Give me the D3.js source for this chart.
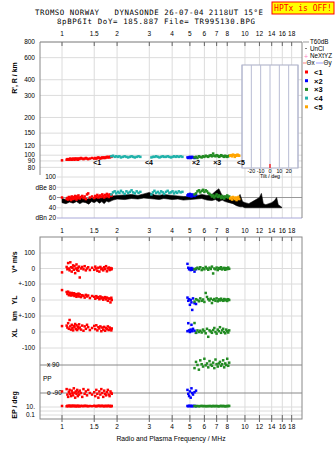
<!DOCTYPE html>
<html>
<head>
<meta charset="utf-8">
<script src="https://cdn.jsdelivr.net/npm/d3@7"></script>
<style>
  body { margin: 0; background: #fff; }
  svg text { font-family: "Liberation Sans", Arial, sans-serif; }
  .mono { font-family: "DejaVu Sans Mono", monospace; white-space: pre; }
</style>
</head>
<body>
<svg id="chart" width="335" height="451"></svg>
<script>
// frequency axis
const freqTicks = [1, 1.5, 2, 3, 4, 5, 6, 7, 8, 10, 12, 14, 16, 18];
const heightTicks = [80, 90, 100, 120, 150, 200, 300, 400, 600, 800];
const ampTicks = [100, 80, 60, 40, 20];
const ampLabels = ["100", "dBe 80", "60", "40", "dBn 20"];
const tiltTicks = [-30, -20, -10, 0, 10, 20, 30];

// mode 1 (red)
const redF = [
  1.00, 1.06, 1.07, 1.08, 1.09, 1.10, 1.11, 1.12, 1.13, 1.14,
  1.15, 1.16, 1.17, 1.18, 1.19, 1.20, 1.21, 1.22, 1.23, 1.24,
  1.25, 1.27, 1.29, 1.31, 1.33, 1.35, 1.37, 1.39, 1.42, 1.46,
  1.50, 1.52, 1.54, 1.56, 1.58, 1.60, 1.62, 1.64, 1.66, 1.68,
  1.70, 1.72, 1.74, 1.76, 1.78, 1.80, 1.82, 1.84, 1.86, 1.87];
const redH = [
  91, 92, 93, 92, 93, 92, 94, 93, 92, 93,
  94, 93, 92, 94, 93, 94, 93, 92, 94, 93,
  94, 95, 94, 93, 94, 95, 94, 93, 94, 95,
  94, 95, 94, 95, 96, 95, 94, 95, 96, 95,
  96, 95, 96, 97, 96, 97, 96, 97, 97, 98];
const redA = [
  60, 57, 59, 56, 61, 58, 60, 55, 62, 59,
  57, 61, 58, 63, 60, 56, 62, 59, 64, 60,
  58, 61, 63, 59, 62, 57, 66, 68, 60, 62,
  59, 63, 61, 65, 60, 62, 64, 61, 66, 63,
  60, 65, 62, 67, 64, 61, 66, 63, 65, 64];
const redV = [
  -25, 10, -5, 35, 0, -12, 40, 8, -20, 5,
  20, -8, 15, -30, 0, 26, -10, 5, -15, 12,
  -58, 0, 10, -5, 15, -12, 0, 8, -10, 5,
  -8, 12, 0, -15, 5, -20, 10, -5, 0, -12,
  8, -3, 15, -18, 0, 6, -10, 3, -6, 0];
const redYL = [
  62, 50, 38, 52, 30, 45, 40, 28, 44, 35,
  30, 42, 25, 38, 33, 20, 36, 28, 40, 22,
  35, 18, 30, 26, 15, 32, 22, 28, 12, 25,
  20, 8, 24, 14, 18, 5, 22, 10, 16, 2,
  12, 18, 4, 15, -5, 10, 6, -15, 14, 0];
const redXL = [
  37, 40, 28, 55, 20, 75, 35, 15, 45, 25,
  10, 38, 30, 50, 18, 42, 12, 33, 22, 48,
  28, 15, 40, 8, 35, 20, 45, 30, 12, 25,
  38, 18, 42, 10, 30, 22, 35, 5, 28, 15,
  32, 8, 25, 18, 35, 12, 28, 20, 10, 22];
const redPP = [
  -80, -65, -100, -115, -85, -70, -95, -110, -75, -90,
  -105, -60, -88, -120, -80, -95, -70, -110, -85, -100,
  -75, -90, -115, -65, -95, -80, -105, -70, -90, -100,
  -85, -110, -70, -95, -120, -80, -100, -65, -90, -115,
  -75, -95, -105, -85, -70, -100, -110, -80, -90, -95];
const redEP = [
  18, 15, 20, 16, 18, 22, 17, 15, 19, 21,
  16, 18, 20, 17, 15, 19, 18, 16, 20, 17,
  15, 19, 18, 16, 21, 17, 19, 15, 18, 16,
  20, 17, 15, 19, 18, 21, 16, 18, 20, 17,
  15, 19, 18, 16, 20, 17, 19, 15, 18, 17];

// mode 4 (cyan)
const cyanF = [1.86, 1.90, 1.94, 1.98, 2.02, 2.06, 2.10, 2.15, 2.20, 2.25, 2.30, 2.35, 2.40, 2.45, 2.50, 2.56, 2.62, 2.68, 3.08, 3.14, 3.20, 3.27, 3.34, 3.41, 3.48, 3.55, 3.62, 3.70, 3.78, 3.86, 3.94, 4.02, 4.10, 4.18, 4.26, 4.35, 4.45, 4.55];
const cyanH = [98, 99, 97, 98, 97, 98, 96, 97, 98, 97, 96, 97, 98, 97, 96, 97, 98, 97, 96, 97, 97, 98, 97, 96, 97, 98, 97, 97, 98, 97, 96, 97, 98, 97, 98, 97, 98, 97];
const cyanA = [66, 70, 72, 68, 71, 69, 73, 70, 67, 72, 69, 71, 74, 70, 68, 72, 69, 71, 66, 70, 73, 69, 71, 68, 72, 70, 67, 71, 73, 69, 70, 72, 68, 71, 69, 72, 70, 71];

// mode 2 (blue)
const blueF = [4.85, 4.90, 4.95, 5.00, 5.05, 5.10, 5.15, 5.20, 5.30, 5.40];
const blueH = [96, 95, 96, 97, 95, 96, 97, 96, 95, 96];
const blueA = [64, 66, 63, 67, 65, 62, 66, 64, 63, 65];
const blueV = [30, 5, -5, 0, -10, 3, -8, -2, -20, -5];
const blueYL = [15, -5, 5, -30, 0, -15, -62, 10, -20, -25];
const blueXL = [5, 55, 10, 0, 15, 45, 5, 20, 8, -5];
const bluePP = [-70, -95, -110, -80, -120, -60, -90, -100, -85, -75];
const blueEP = [18, 16, 20, 17, 19, 16, 18, 17, 19, 16];

// mode 3 (green)
const greenF = [5.30, 5.40, 5.50, 5.60, 5.70, 5.80, 5.90, 6.00, 6.10, 6.20, 6.30, 6.40, 6.50, 6.60, 6.70, 6.80, 6.90, 7.00, 7.10, 7.20, 7.30, 7.40, 7.50, 7.60, 7.70, 7.80, 7.90, 8.00, 8.10, 8.20];
const greenH = [96, 97, 95, 98, 97, 96, 98, 97, 99, 98, 97, 99, 100, 98, 103, 99, 98, 100, 99, 97, 98, 100, 99, 98, 97, 99, 98, 97, 98, 99];
const greenA = [66, 68, 72, 74, 70, 73, 75, 71, 74, 72, 69, 67, 65, 62, 64, 60, 63, 66, 61, 64, 62, 59, 63, 60, 58, 62, 61, 64, 60, 62];
const greenV = [-5, 0, 5, -3, 8, -10, 2, -5, 10, 0, -8, 5, -3, 12, -32, 0, -5, 6, -10, 3, -2, 8, -6, 0, 4, -8, 2, -4, 6, -2];
const greenYL = [-10, 5, 0, -8, 10, -5, 3, -12, 44, 19, 5, -3, 8, -19, 0, 6, -5, 10, -8, 4, -3, 8, 0, -5, 6, -2, 3, -6, 5, 0];
const greenXL = [56, -5, 10, 0, 8, -3, 15, 5, -8, 20, -30, 10, 3, -5, 12, 25, 0, -10, 15, 5, 30, -5, 10, 20, 0, -8, 15, 5, -3, 10];
const greenPP = [70, 110, 90, 60, 120, 95, 80, 130, 88, 100, 75, 115, 92, 85, 105, 70, 125, 95, 80, 100, 110, 85, 95, 120, 75, 100, 90, 130, 85, 105];
const greenEP = [17, 16, 18, 15, 17, 19, 16, 18, 15, 17, 16, 18, 17, 15, 19, 16, 17, 18, 16, 15, 17, 19, 16, 18, 17, 15, 16, 18, 17, 19];

// mode 5 (orange)
const orangeF = [8.30, 8.40, 8.50, 8.60, 8.70, 8.80, 8.90, 9.00, 9.10, 9.20, 9.30];
const orangeH = [99, 100, 98, 101, 100, 97, 100, 99, 101, 100, 99];
const orangeA = [58, 60, 56, 61, 59, 57, 60, 55, 58, 61, 57];

// noise amplitude band (black)
const noiseF = [1.00, 1.05, 1.10, 1.15, 1.20, 1.25, 1.30, 1.35, 1.40, 1.45, 1.50, 1.55, 1.60, 1.65, 1.70, 1.75, 1.80, 1.90, 2.00, 2.20, 2.40, 2.60, 2.80, 3.00, 3.20, 3.40, 3.60, 3.80, 4.00, 4.30, 4.60, 5.00, 5.40, 5.80, 6.20, 6.60, 6.90, 7.20, 7.50, 7.80, 8.20, 8.60, 9.00, 9.40, 9.70, 10.0, 10.5, 11.0, 11.5, 12.0, 12.3, 12.6, 13.0, 13.5, 14.0, 14.5, 14.9, 15.2, 15.9];
const noiseLo = [50, 48, 51, 49, 52, 48, 51, 50, 47, 52, 50, 53, 49, 52, 48, 53, 51, 55, 57, 56, 58, 57, 59, 58, 57, 56, 58, 57, 56, 57, 55, 56, 57, 58, 55, 54, 56, 52, 55, 52, 50, 48, 44, 42, 42, 40, 40, 40, 40, 40, 40, 40, 40, 40, 40, 40, 40, 40, 40];
const noiseHi = [58, 56, 59, 57, 58, 57, 60, 56, 58, 59, 57, 61, 58, 60, 59, 62, 60, 63, 64, 65, 66, 64, 67, 70, 65, 64, 66, 65, 64, 63, 62, 62, 63, 66, 64, 66, 72, 77, 64, 62, 60, 58, 56, 66, 52, 50, 48, 52, 56, 60, 68, 48, 46, 48, 50, 54, 60, 46, 41];

// echo trace labels
const traceLabels = ["<1", "<4", "×2", "×3", "<5"];
const traceLabelF = [1.48, 2.84, 5.13, 6.7, 9.04];

const legendNames = ["<1", "×2", "×3", "<4", "<5"];
const legendColors = ["#ff0000", "#0000ff", "#228b22", "#20b2aa", "#ffa500"];

const svg = d3.select("#chart");

// scales
const x = d3.scaleLog().domain([0.758, 20.5]).range([40, 302]);
const yH = d3.scaleLog().domain([67, 800]).range([177, 42]);
const yA = d3.scaleLinear().domain([20, 100]).range([218, 177]);
const yV = d3.scaleLinear().domain([-100, 100]).range([284, 253]);
const yYL = d3.scaleLinear().domain([-100, 100]).range([316, 284]);
const yXL = d3.scaleLinear().domain([-100, 100]).range([348, 316]);
const yPP = d3.scaleLinear().domain([-90, 90]).range([393, 365]);
const yEP = d3.scaleLog().domain([0.1, 10]).range([415, 407]);
const xTilt = d3.scaleLinear().domain([-30, 30]).range([242, 298]);

const grid = "#dcdcdc";

// title
svg.append("text").attr("class", "mono").attr("x", 35).attr("y", 15)
  .attr("font-size", 7.4).attr("textLength", 228).attr("lengthAdjust", "spacing")
  .text("TROMSO NORWAY   DYNASONDE 26-07-04 2118UT 15°E");
svg.append("text").attr("class", "mono").attr("x", 57).attr("y", 23.5)
  .attr("font-size", 7.4).attr("textLength", 198).attr("lengthAdjust", "spacing")
  .text("8pBP6It DoY= 185.887 File= TR995130.BPG");
svg.append("rect").attr("x", 272).attr("y", 2).attr("width", 62).attr("height", 12)
  .attr("fill", "#ffff00").attr("stroke", "#ff0000");
svg.append("text").attr("class", "mono").attr("x", 303).attr("y", 11)
  .attr("font-size", 8).attr("fill", "#ff0000").attr("text-anchor", "middle").text("HPTx is OFF!");

// ---------- upper panel: heights ----------
const upper = svg.append("g");
upper.selectAll(".vg").data(freqTicks).join("line")
  .attr("x1", d => x(d)).attr("x2", d => x(d)).attr("y1", 42).attr("y2", 218)
  .attr("stroke", grid);
upper.selectAll(".hg").data(heightTicks).join("line")
  .attr("x1", 40).attr("x2", 302).attr("y1", d => yH(d)).attr("y2", d => yH(d))
  .attr("stroke", grid);
upper.selectAll(".hl").data(heightTicks).join("text")
  .attr("x", 35).attr("y", d => yH(d) + 2.3).attr("text-anchor", "end")
  .attr("font-size", 6.5).text(d => d);

// amplitude grid
upper.selectAll(".ag").data(ampTicks).join("line")
  .attr("x1", 57).attr("x2", 302).attr("y1", d => yA(d)).attr("y2", d => yA(d))
  .attr("stroke", d => d === 60 ? "#999" : d === 20 ? "#a8a8d8" : grid);
upper.selectAll(".al").data(ampTicks).join("text")
  .attr("x", 56).attr("y", d => yA(d) + 2.3).attr("text-anchor", "end")
  .attr("font-size", 6.5).text((d, i) => ampLabels[i]);

// frame
upper.append("line").attr("x1", 40).attr("x2", 302).attr("y1", 42).attr("y2", 42).attr("stroke", "#888");
upper.append("line").attr("x1", 40).attr("x2", 40).attr("y1", 42).attr("y2", 175).attr("stroke", "#888");
upper.append("line").attr("x1", 302).attr("x2", 302).attr("y1", 42).attr("y2", 218).attr("stroke", "#888");
upper.selectAll(".tk").data(freqTicks).join("line")
  .attr("x1", d => x(d)).attr("x2", d => x(d)).attr("y1", 42).attr("y2", 46).attr("stroke", "#666");
upper.selectAll(".tl").data(freqTicks).join("text")
  .attr("x", d => x(d)).attr("y", 36).attr("text-anchor", "middle")
  .attr("font-size", 6.5).text(d => d);
svg.append("text").attr("transform", "translate(17,78) rotate(-90)")
  .attr("text-anchor", "middle").attr("font-size", 7).attr("font-weight", "bold").text("R', R / km");

// tilt inset
upper.append("rect").attr("x", 242).attr("y", 65).attr("width", 56).attr("height", 103)
  .attr("fill", "#fff").attr("stroke", "#a8acc4");
upper.selectAll(".tg").data(tiltTicks).join("line")
  .attr("x1", d => xTilt(d)).attr("x2", d => xTilt(d)).attr("y1", 65).attr("y2", 168)
  .attr("stroke", "#b8bcd4");
upper.selectAll(".ttl").data(tiltTicks.slice(1, 6)).join("text")
  .attr("x", d => xTilt(d)).attr("y", 172.5).attr("text-anchor", "middle")
  .attr("font-size", 5.3).text(d => d);
upper.append("text").attr("x", 270).attr("y", 178).attr("text-anchor", "middle")
  .attr("font-size", 5.3).text("Tilt / deg");
upper.append("line").attr("x1", xTilt(0)).attr("x2", xTilt(0)).attr("y1", 164).attr("y2", 168)
  .attr("stroke", "#ff0000").attr("stroke-width", 1.2);

// noise band
upper.append("path").datum(d3.range(noiseF.length))
  .attr("d", d3.area().x(i => x(noiseF[i])).y0(i => yA(noiseLo[i])).y1(i => yA(noiseHi[i])))
  .attr("fill", "#000").attr("stroke", "#000").attr("stroke-width", 0.6);

function dots(g, fs, vs, ys, color) {
  g.append("g").selectAll("rect").data(d3.zip(fs, vs)).join("rect")
    .attr("x", d => x(d[0]) - 1.25).attr("y", d => ys(d[1]) - 1.25)
    .attr("width", 2.5).attr("height", 2.5).attr("fill", color);
}

dots(upper, redF, redH, yH, legendColors[0]);
dots(upper, cyanF, cyanH, yH, legendColors[3]);
dots(upper, blueF, blueH, yH, legendColors[1]);
dots(upper, greenF, greenH, yH, legendColors[2]);
dots(upper, orangeF, orangeH, yH, legendColors[4]);
dots(upper, redF, redA, yA, legendColors[0]);
dots(upper, cyanF, cyanA, yA, legendColors[3]);
dots(upper, blueF, blueA, yA, legendColors[1]);
dots(upper, greenF, greenA, yA, legendColors[2]);
dots(upper, orangeF, orangeA, yA, legendColors[4]);

upper.selectAll(".trl").data(traceLabels).join("text")
  .attr("x", (d, i) => x(traceLabelF[i])).attr("y", yH(88) + 3)
  .attr("font-size", 7).attr("font-weight", "bold").text(d => d);

// legend
const lg = svg.append("g");
lg.append("line").attr("x1", 303).attr("x2", 309).attr("y1", 42).attr("y2", 42).attr("stroke", "#999");
lg.append("text").attr("x", 310).attr("y", 44.3).attr("font-size", 6.3).text("T60dB");
lg.append("rect").attr("x", 305.5).attr("y", 48).attr("width", 1).attr("height", 1).attr("fill", "#000");
lg.append("text").attr("x", 310).attr("y", 51).attr("font-size", 6.3).text("UnCl");
lg.append("text").attr("x", 306).attr("y", 58.5).attr("text-anchor", "middle").attr("font-size", 7).attr("fill", "#ff80c0").text("+");
lg.append("text").attr("x", 310).attr("y", 58).attr("font-size", 6.3).text("NeXtYZ");
lg.append("line").attr("x1", 303).attr("x2", 306).attr("y1", 63).attr("y2", 63).attr("stroke", "#ff8080");
lg.append("text").attr("x", 306.5).attr("y", 65.3).attr("font-size", 6.3).text("Θx");
lg.append("line").attr("x1", 316).attr("x2", 323).attr("y1", 63).attr("y2", 63).attr("stroke", "#a0a0ff");
lg.append("text").attr("x", 323.5).attr("y", 65.3).attr("font-size", 6.3).text("Θy");
lg.selectAll(".lr").data(legendNames).join("rect")
  .attr("x", 305).attr("y", (d, i) => 70.5 + i * 8.7).attr("width", 3).attr("height", 3)
  .attr("fill", (d, i) => legendColors[i]);
lg.selectAll(".lt").data(legendNames).join("text")
  .attr("x", 314).attr("y", (d, i) => 74.8 + i * 8.7)
  .attr("font-size", 7.5).attr("font-weight", "bold").text(d => d);

// middle frequency labels
svg.selectAll(".ml").data(freqTicks).join("text")
  .attr("x", d => x(d)).attr("y", 232.5).attr("text-anchor", "middle")
  .attr("font-size", 6.5).text(d => d);

// ---------- lower panel ----------
const bot = svg.append("g");
bot.selectAll(".vg").data(freqTicks).join("line")
  .attr("x1", d => x(d)).attr("x2", d => x(d)).attr("y1", 237).attr("y2", 419)
  .attr("stroke", grid);
const lightRows = [yV(100), yV(0), yV(-100), yYL(0), yXL(100), yXL(0), yXL(-100), yEP(10), yEP(1), yEP(0.1)];
bot.selectAll(".hg").data(lightRows).join("line")
  .attr("x1", 40).attr("x2", 302).attr("y1", d => d).attr("y2", d => d).attr("stroke", grid);
bot.selectAll(".pg").data([90, -90]).join("line")
  .attr("x1", 40).attr("x2", 302).attr("y1", d => yPP(d)).attr("y2", d => yPP(d)).attr("stroke", "#888");
bot.append("rect").attr("x", 40).attr("y", 237).attr("width", 262).attr("height", 182)
  .attr("fill", "none").attr("stroke", "#888");
bot.selectAll(".tk").data(freqTicks).join("line")
  .attr("x1", d => x(d)).attr("x2", d => x(d)).attr("y1", 237).attr("y2", 241).attr("stroke", "#666");
bot.selectAll(".tb").data(freqTicks).join("line")
  .attr("x1", d => x(d)).attr("x2", d => x(d)).attr("y1", 415).attr("y2", 422).attr("stroke", "#666");
bot.selectAll(".bl").data(freqTicks).join("text")
  .attr("x", d => x(d)).attr("y", 428.5).attr("text-anchor", "middle")
  .attr("font-size", 6.5).text(d => d);
svg.append("text").attr("x", 171).attr("y", 440.5).attr("text-anchor", "middle")
  .attr("font-size", 6.8).text("Radio and Plasma Frequency / MHz");

// row labels
const rowLabels = [
  [yV(100), "100"], [yV(0), "0"], [yV(-100), "+-100"], [yYL(0), "0"],
  [yXL(100), "+-100"], [yXL(0), "0"], [yXL(-100), "-100"], [yEP(10), "10."], [yEP(0.1), "0.1"]
];
bot.selectAll(".rl").data(rowLabels).join("text")
  .attr("x", 35).attr("y", d => d[0] + 2.3).attr("text-anchor", "end")
  .attr("font-size", 6.5).text(d => d[1]);
bot.selectAll(".ppl").data([[yPP(90), "x  90"], [yPP(-90), "o  -90"]]).join("text")
  .attr("x", 47).attr("y", d => d[0] + 2.3).attr("font-size", 6.5).text(d => d[1]);
bot.append("text").attr("x", 43).attr("y", 381).attr("font-size", 6.5).text("PP");
const sideLabels = [[262, "V* m/s"], [300, "YL"], [316, "km"], [333, "XL"], [405, "EP / deg"]];
bot.selectAll(".sl").data(sideLabels).join("text")
  .attr("transform", d => `translate(17,${d[0]}) rotate(-90)`)
  .attr("text-anchor", "middle").attr("font-size", 7).attr("font-weight", "bold").text(d => d[1]);

dots(bot, redF, redV, yV, legendColors[0]);
dots(bot, redF, redYL, yYL, legendColors[0]);
dots(bot, redF, redXL, yXL, legendColors[0]);
dots(bot, redF, redPP, yPP, legendColors[0]);
dots(bot, redF, redEP, yEP, legendColors[0]);
dots(bot, blueF, blueV, yV, legendColors[1]);
dots(bot, blueF, blueYL, yYL, legendColors[1]);
dots(bot, blueF, blueXL, yXL, legendColors[1]);
dots(bot, blueF, bluePP, yPP, legendColors[1]);
dots(bot, blueF, blueEP, yEP, legendColors[1]);
dots(bot, greenF, greenV, yV, legendColors[2]);
dots(bot, greenF, greenYL, yYL, legendColors[2]);
dots(bot, greenF, greenXL, yXL, legendColors[2]);
dots(bot, greenF, greenPP, yPP, legendColors[2]);
dots(bot, greenF, greenEP, yEP, legendColors[2]);
</script>
</body>
</html>
